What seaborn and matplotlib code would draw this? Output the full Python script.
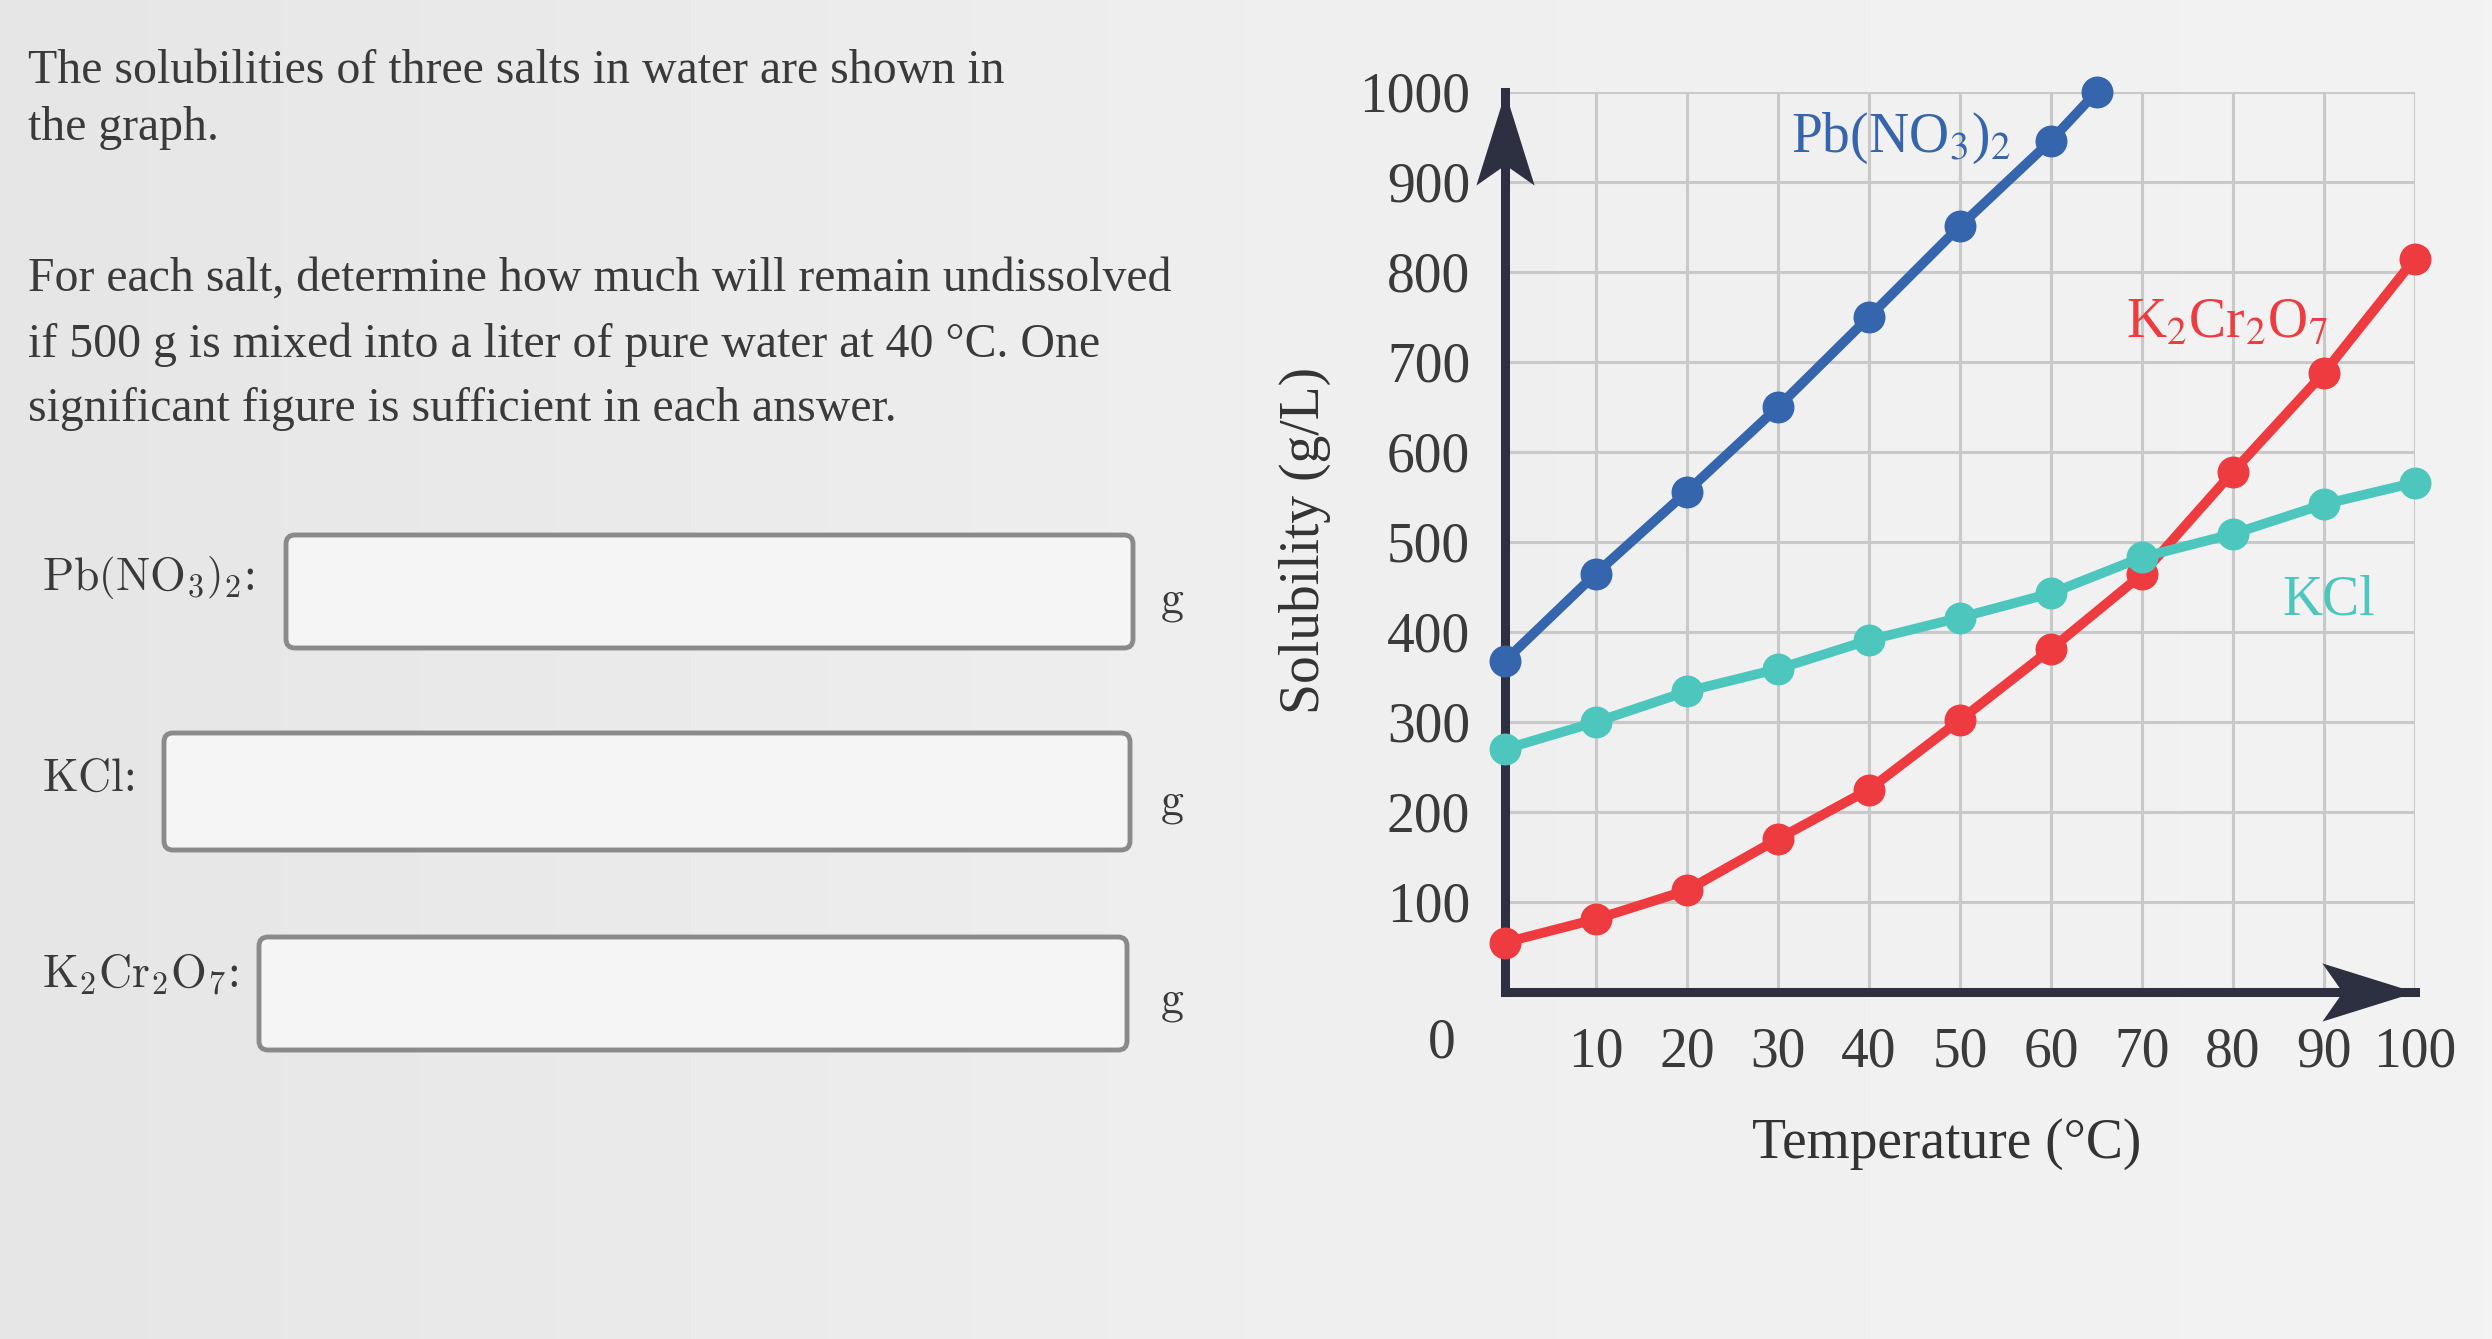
import numpy as np
import pandas as pd
import matplotlib
matplotlib.use("Agg")
import matplotlib.pyplot as plt
import seaborn as sns
from matplotlib.patches import FancyBboxPatch
from matplotlib.path import Path
from matplotlib.transforms import IdentityTransform
from matplotlib.colors import LinearSegmentedColormap

# ---------------- data ----------------
temps = [0, 10, 20, 30, 40, 50, 60, 70, 80, 90, 100]
pb_temps = [0, 10, 20, 30, 40, 50, 60, 65]
pb_no3_2 = [368, 465, 556, 650, 750, 851, 946, 1000]
kcl = [270, 300, 334, 359, 391, 416, 443, 483, 509, 542, 566]
k2cr2o7 = [55, 81, 113, 170, 225, 302, 381, 464, 578, 688, 815]
x_ticks = [10, 20, 30, 40, 50, 60, 70, 80, 90, 100]
y_ticks = [100, 200, 300, 400, 500, 600, 700, 800, 900, 1000]

blue = "#3465ad"
teal = "#4dc6bd"
red = "#ee3b40"
axis_col = "#2c3040"
text_col = "#3a3a3a"

sns.set_theme(style="white")
plt.rcParams["font.family"] = ["Liberation Serif", "DejaVu Serif"]
plt.rcParams["mathtext.fontset"] = "stix"
plt.rcParams["mathtext.default"] = "rm"

W, H = 2492, 1339
fig = plt.figure(figsize=(W / 100, H / 100), dpi=100, facecolor="#ececec")


def fx(px):
    return px / W


def fy(py):
    return 1 - py / H


# background (photo-like light gradient)
bg = fig.add_axes([0, 0, 1, 1], zorder=-10)
bg.axis("off")
grad = np.tile(np.linspace(0, 1, 256), (2, 1))
cm = LinearSegmentedColormap.from_list("bgc", ["#e6e6e6", "#efefef", "#f3f3f3"])
bg.imshow(grad, extent=[0, 1, 0, 1], aspect="auto", cmap=cm, origin="lower")
bg.set_xlim(0, 1)
bg.set_ylim(0, 1)

# ---------------- chart ----------------
ax = fig.add_axes([fx(1505), fy(992), (2415 - 1505) / W, (992 - 92) / H])
ax.set_facecolor("none")

line_kw = dict(marker="o", markersize=23, markeredgewidth=0, linewidth=7,
               clip_on=False, zorder=3)
sns.lineplot(x=temps, y=k2cr2o7, ax=ax, color=red, **line_kw)
sns.lineplot(x=temps, y=kcl, ax=ax, color=teal, **line_kw)
sns.lineplot(x=pb_temps, y=pb_no3_2, ax=ax, color=blue, **line_kw)

ax.set_xlim(0, 100)
ax.set_ylim(0, 1000)
ax.set_xticks(x_ticks)
ax.set_yticks(y_ticks)
ax.grid(True, color="#c9c9c9", linewidth=2.2)
ax.set_axisbelow(True)
for s in ["top", "right"]:
    ax.spines[s].set_visible(False)
for s in ["left", "bottom"]:
    ax.spines[s].set_linewidth(6.5)
    ax.spines[s].set_color(axis_col)
    ax.spines[s].set_zorder(2.5)
ax.tick_params(axis="both", direction="out", length=19, width=2.2,
               color="#5a5a5a", labelsize=40, labelcolor=text_col, pad=6)

# axis arrowheads
up = Path([(0, 0), (-0.5, -1.6), (0, -1.25), (0.5, -1.6), (0, 0)],
          [Path.MOVETO, Path.LINETO, Path.LINETO, Path.LINETO, Path.CLOSEPOLY])
right = Path([(0, 0), (-1.6, 0.5), (-1.25, 0), (-1.6, -0.5), (0, 0)],
             [Path.MOVETO, Path.LINETO, Path.LINETO, Path.LINETO, Path.CLOSEPOLY])
ax.plot([0], [1000], marker=up, markersize=134, color=axis_col,
        markeredgewidth=0, linestyle="none", clip_on=False, zorder=4)
ax.plot([100], [0], marker=right, markersize=134, color=axis_col,
        markeredgewidth=0, linestyle="none", clip_on=False, zorder=4)

ax.text(-7, -57, "0", fontsize=40, color=text_col, ha="center", va="center",
        clip_on=False)

ax.set_ylabel("Solubility (g/L)", fontsize=40, color="#333333")
ax.yaxis.label.set_va("center")
ax.yaxis.set_label_coords(-0.22, 0.502)
ax.set_xlabel("Temperature (°C)", fontsize=40, color="#333333")
ax.xaxis.label.set_va("center")
ax.xaxis.set_label_coords(0.485, -0.169)

ax.text(31.4, 934, r"Pb(NO$_3$)$_2$", fontsize=40, color=blue, va="baseline")
ax.text(68.2, 727, r"K$_2$Cr$_2$O$_7$", fontsize=40, color=red, va="baseline")
ax.text(85.4, 419, "KCl", fontsize=40, color=teal, va="baseline")

# ---------------- left question text ----------------
para_fs = 34.4
fig.text(fx(28), fy(83), "The solubilities of three salts in water are shown in",
         fontsize=para_fs, color=text_col, va="baseline")
fig.text(fx(28), fy(140), "the graph.", fontsize=para_fs, color=text_col, va="baseline")
fig.text(fx(28), fy(291), "For each salt, determine how much will remain undissolved",
         fontsize=para_fs, color=text_col, va="baseline")
fig.text(fx(28), fy(357), "if 500 g is mixed into a liter of pure water at 40 °C. One",
         fontsize=para_fs, color=text_col, va="baseline")
fig.text(fx(28), fy(421), "significant figure is sufficient in each answer.",
         fontsize=para_fs, color=text_col, va="baseline")

lab_fs = 33
fig.text(fx(42), fy(591), r"$\mathrm{Pb}\left(\mathrm{NO}_3\right)_2$:", fontsize=lab_fs,
         color=text_col, va="baseline", math_fontfamily="cm")
fig.text(fx(42), fy(791), r"$\mathrm{KCl}$:", fontsize=lab_fs,
         color=text_col, va="baseline", math_fontfamily="cm")
fig.text(fx(42), fy(988), r"$\mathrm{K}_2\mathrm{Cr}_2\mathrm{O}_7$:", fontsize=lab_fs,
         color=text_col, va="baseline", math_fontfamily="cm")

boxes = [(286, 535, 1133, 648), (164, 733, 1130, 850), (259, 937, 1127, 1050)]
g_base = [612, 815, 1013]
for (x0, y0, x1, y1), gb in zip(boxes, g_base):
    p = FancyBboxPatch((x0, H - y1), x1 - x0, y1 - y0,
                       boxstyle="round,pad=0,rounding_size=9",
                       facecolor="#f5f5f5", edgecolor="#8a8a8a", linewidth=3.5,
                       transform=IdentityTransform())
    fig.add_artist(p)
    fig.text(fx(1160), fy(gb), r"$\mathrm{g}$", fontsize=lab_fs, color=text_col,
             va="baseline", math_fontfamily="cm")

fig.savefig("out.png", dpi=100, facecolor=fig.get_facecolor())
